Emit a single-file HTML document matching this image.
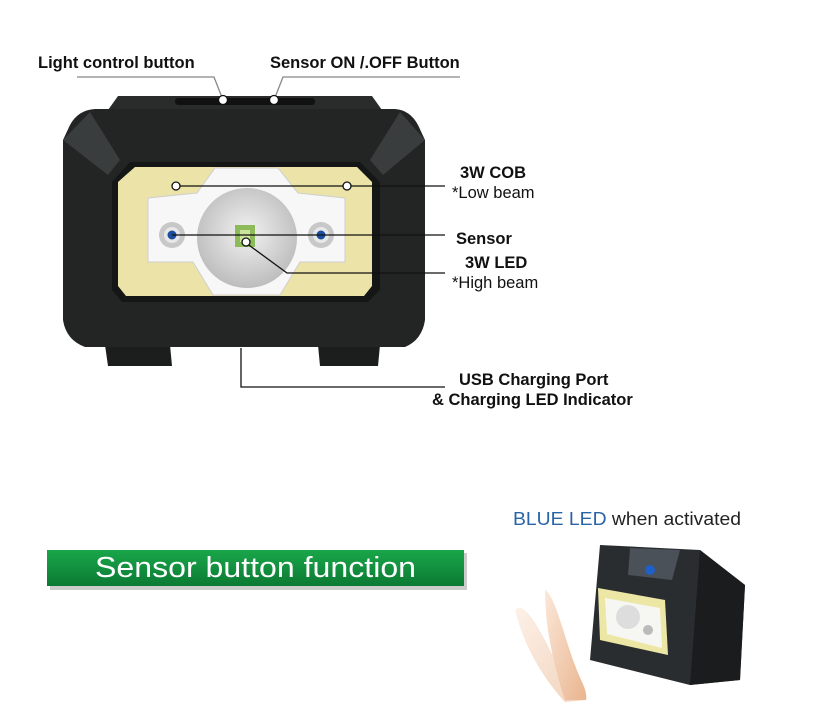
<!DOCTYPE html>
<html><head><meta charset="utf-8"><style>
html,body{margin:0;padding:0;background:#fff;}
svg{display:block;}
text{font-family:"Liberation Sans",Arial,sans-serif;}
</style></head><body>
<svg width="827" height="709" viewBox="0 0 827 709" xmlns="http://www.w3.org/2000/svg">
<defs>
<radialGradient id="lens" cx="50%" cy="45%" r="55%"><stop offset="0" stop-color="#f2f2f2"/><stop offset="1" stop-color="#bdbdbd"/></radialGradient>
<linearGradient id="grn" x1="0" y1="0" x2="0" y2="1"><stop offset="0" stop-color="#1aa64a"/><stop offset="1" stop-color="#0b7a33"/></linearGradient>
<linearGradient id="hand" x1="0" y1="0" x2="1" y2="1"><stop offset="0" stop-color="#fbe7d8"/><stop offset="1" stop-color="#e9b58f"/></linearGradient>
</defs>
<!-- top labels -->
<text x="38" y="68" font-size="16.5" font-weight="bold" fill="#111">Light control button</text>
<text x="270" y="68" font-size="16.5" font-weight="bold" fill="#111">Sensor ON /.OFF Button</text>
<polyline points="77,77 214,77 223,100" fill="none" stroke="#888" stroke-width="1.3"/>
<polyline points="460,77 283,77 274,100" fill="none" stroke="#888" stroke-width="1.3"/>
<!-- headlamp -->
<path d="M118,96 L372,96 L382,110 L108,110 Z" fill="#2a2c2c"/>
<rect x="175" y="98" width="140" height="7" rx="3" fill="#111"/>
<path d="M105,345 L170,345 L172,366 L108,366 Z" fill="#1c1d1d"/>
<path d="M318,345 L380,345 L378,366 L320,366 Z" fill="#1c1d1d"/>
<path d="M95,109 L395,109 Q410,110 418,125 L425,140 L425,320 Q422,340 405,347 L85,347 Q66,340 63,320 L63,140 L70,125 Q78,110 95,109 Z" fill="#232525"/>
<path d="M63,140 L90,112 L120,160 L108,175 Z" fill="#3a3d3d"/>
<path d="M425,140 L400,112 L370,160 L383,175 Z" fill="#3a3d3d"/>
<path d="M130,162 L360,162 L380,182 L380,290 L368,302 L122,302 L112,290 L112,182 Z" fill="#151616"/>
<path d="M135,167 L357,167 L372,182 L372,286 L364,296 L126,296 L118,286 L118,182 Z" fill="#ece3a8"/>
<path d="M215,168 L278,168 L298,193 L345,198 L345,262 L300,262 L280,295 L213,295 L193,262 L148,262 L148,198 L197,193 Z" fill="#f7f7f7" stroke="#cfcfcf"/>
<circle cx="247" cy="238" r="50" fill="url(#lens)"/>
<rect x="235" y="225" width="20" height="22" fill="#8dbb5a"/>
<rect x="240" y="230" width="10" height="12" fill="#cfe49b"/>
<circle cx="172" cy="235" r="13" fill="#c8c8c8"/><circle cx="172" cy="235" r="8" fill="#e8e8e8"/>
<circle cx="321" cy="235" r="13" fill="#c8c8c8"/><circle cx="321" cy="235" r="8" fill="#e8e8e8"/>
<circle cx="172" cy="235" r="4.5" fill="#1c4e9e"/>
<circle cx="321" cy="235" r="4.5" fill="#1c4e9e"/>
<!-- connectors -->
<g stroke="#111" stroke-width="1.3" fill="none">
<line x1="176" y1="186" x2="445" y2="186"/>
<line x1="172" y1="235" x2="445" y2="235"/>
<polyline points="246,243 287,273 445,273"/>
<polyline points="241,348 241,387 445,387"/>
</g>
<g fill="#fff" stroke="#111" stroke-width="1.3">
<circle cx="176" cy="186" r="4"/><circle cx="347" cy="186" r="4"/>
<circle cx="246" cy="242" r="4"/>
<circle cx="223" cy="100" r="4.5"/><circle cx="274" cy="100" r="4.5"/>
</g>
<!-- right labels -->
<g font-size="16.5" fill="#111">
<text x="460" y="178" font-weight="bold">3W COB</text>
<text x="452" y="198">*Low beam</text>
<text x="456" y="244" font-weight="bold">Sensor</text>
<text x="465" y="268" font-weight="bold">3W LED</text>
<text x="452" y="288">*High beam</text>
<text x="459" y="385" font-weight="bold">USB Charging Port</text>
<text x="432" y="405" font-weight="bold">&amp; Charging LED Indicator</text>
</g>
<!-- green bar -->
<rect x="50" y="553" width="417" height="37" fill="#9a9a9a" opacity="0.5"/>
<rect x="47" y="550" width="417" height="36" fill="url(#grn)"/>
<text x="95" y="577" font-size="29" fill="#fff" textLength="321" lengthAdjust="spacingAndGlyphs">Sensor button function</text>
<!-- blue LED -->
<text x="513" y="525" font-size="18" textLength="228" lengthAdjust="spacingAndGlyphs"><tspan fill="#2a64a8">BLUE LED</tspan><tspan fill="#222"> when activated</tspan></text>
<path d="M600,545 L700,550 L745,585 L740,680 L690,685 L590,660 Z" fill="#2a2d30"/>
<path d="M700,550 L745,585 L740,680 L690,685 Z" fill="#1a1c1e"/>
<path d="M630,548 L680,550 L672,580 L628,575 Z" fill="#4b5158"/>
<circle cx="650" cy="570" r="5" fill="#1f5fc8"/>
<path d="M598,588 L665,600 L668,655 L600,640 Z" fill="#ece7a5"/>
<path d="M605,598 L660,608 L662,648 L607,634 Z" fill="#f6f6f2"/>
<circle cx="628" cy="617" r="12" fill="#ddd"/>
<circle cx="648" cy="630" r="5" fill="#bbb"/>
<path d="M515,610 C525,600 540,630 555,660 C565,680 575,690 585,700 L565,702 C545,680 525,650 515,610 Z" fill="url(#hand)" opacity="0.6"/>
<path d="M545,590 C555,595 565,640 575,665 C580,680 588,690 586,700 L565,700 C555,670 545,630 545,590 Z" fill="url(#hand)"/>
</svg>
</body></html>
